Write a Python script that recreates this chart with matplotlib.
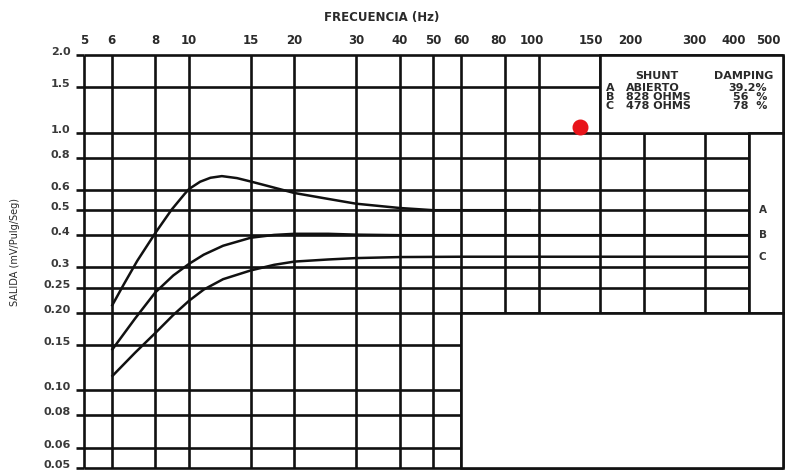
import matplotlib.pyplot as plt
from matplotlib.patches import Rectangle
from matplotlib.ticker import NullLocator
from matplotlib.transforms import ScaledTranslation

# ejes del papel (Hz / mV/Pulg/Seg)
freq_ticks = [5, 6, 8, 10, 15, 20, 30, 40, 50, 60, 80, 100, 150, 200, 300, 400, 500]
freq_labels = [str(f) for f in freq_ticks]
amp_ticks = [0.05, 0.06, 0.08, 0.10, 0.15, 0.20, 0.25, 0.3, 0.4, 0.5, 0.6, 0.8, 1.0, 1.5, 2.0]
amp_labels = ['0.05', '0.06', '0.08', '0.10', '0.15', '0.20', '0.25', '0.3', '0.4',
              '0.5', '0.6', '0.8', '1.0', '1.5', '2.0']

# curvas de respuesta
freq_a = [6, 6.5, 7.1, 8, 8.9, 9.7, 10, 10.75, 11.5, 12.4, 13.7, 15, 17, 20, 25, 30,
          40, 50, 60, 80, 95]
sal_a = [0.212, 0.258, 0.318, 0.408, 0.502, 0.578, 0.605, 0.645, 0.668, 0.678, 0.666,
         0.646, 0.618, 0.583, 0.553, 0.53, 0.51, 0.50, 0.50, 0.50, 0.50]
freq_b = [6, 7, 8, 9, 10, 11, 12.5, 15, 17.5, 20, 25, 30, 40, 60, 100, 200, 400]
sal_b = [0.143, 0.19, 0.24, 0.279, 0.31, 0.336, 0.364, 0.391, 0.401, 0.405, 0.405,
         0.402, 0.40, 0.40, 0.40, 0.40, 0.40]
freq_c = [6, 7, 8, 9, 10, 11, 12.5, 15, 17.5, 20, 25, 30, 40, 60, 100, 200, 400]
sal_c = [0.113, 0.14, 0.167, 0.196, 0.223, 0.246, 0.27, 0.292, 0.307, 0.316, 0.322,
         0.326, 0.329, 0.33, 0.33, 0.33, 0.33]

curve_names = ['A', 'B', 'C']
shunt = ['ABIERTO', '828 OHMS', '478 OHMS']
damping = ['39.2%', '56  %', '78  %']

dot_freq = 131
dot_sal = 1.05

W, H = 786, 476
fig = plt.figure(figsize=(W / 100, H / 100), dpi=100)
ax = fig.add_axes([84 / W, (H - 468) / H, 699 / W, 413 / H])
ax.set_xscale('log')
ax.set_yscale('log')
ax.set_xlim(freq_ticks[0], freq_ticks[-1])
ax.set_ylim(amp_ticks[0], amp_ticks[-1])
for s in ax.spines.values():
    s.set_visible(False)

lw = 1.9
ink = '#111111'
txt = '#2a2a2a'

# cuadricula completa, luego zonas en blanco encima
ax.vlines(freq_ticks, amp_ticks[0], amp_ticks[-1], color=ink, lw=lw, zorder=1, clip_on=False)
ax.hlines(amp_ticks, freq_ticks[0], freq_ticks[-1], color=ink, lw=lw, zorder=1, clip_on=False)

blank = [(150, 500, 1.0, 2.0),   # caja leyenda
         (400, 500, 0.2, 1.0),   # columna A B C
         (60, 500, 0.05, 0.2)]   # zona inferior
for x0, x1, y0, y1 in blank:
    ax.add_patch(Rectangle((x0, y0), x1 - x0, y1 - y0, facecolor='white', edgecolor=ink,
                           lw=lw, zorder=2, clip_on=False))

for f, v in [(freq_a, sal_a), (freq_b, sal_b), (freq_c, sal_c)]:
    ax.plot(f, v, color=ink, lw=1.8, zorder=3, solid_joinstyle='round', solid_capstyle='butt')

ax.plot([dot_freq], [dot_sal], 'o', color='#e8141a', ms=10.5, zorder=4, clip_on=False)

# eje x arriba
ax.xaxis.tick_top()
ax.set_xticks(freq_ticks)
ax.set_xticklabels(freq_labels)
ax.xaxis.set_minor_locator(NullLocator())
ax.tick_params(axis='x', which='both', length=0, pad=6, labelsize=8.5, labelcolor=txt)
shift_x = {80: -6, 100: -7, 150: -9, 200: -14, 300: -11, 400: -15, 500: -15}
for f, lab in zip(freq_ticks, ax.get_xticklabels()):
    lab.set_fontweight('bold')
    dx = shift_x.get(f, 0)
    if dx:
        lab.set_transform(lab.get_transform() + ScaledTranslation(dx / 100, 0, fig.dpi_scale_trans))

ax.set_yticks(amp_ticks)
ax.set_yticklabels(amp_labels)
ax.yaxis.set_minor_locator(NullLocator())
ax.tick_params(axis='y', which='both', direction='out', length=5.8, width=lw, color=ink,
               pad=4, labelsize=8, labelcolor='#3a3a3a')
for lab in ax.get_yticklabels():
    lab.set_fontweight('bold')
    lab.set_transform(lab.get_transform() + ScaledTranslation(0, 4 / 100, fig.dpi_scale_trans))

fig.text(382 / W, 1 - 17 / H, 'FRECUENCIA (Hz)', ha='center', va='center',
         fontsize=8.5, fontweight='bold', color=txt)
fig.text(15 / W, 1 - 252 / H, 'SALIDA (mV/Pulg/Seg)', rotation=90, ha='center', va='center',
         fontsize=7, color=txt, family=['Liberation Sans Narrow', 'DejaVu Sans'])

# leyenda dentro de la caja
def axfrac(px, py):
    return (px - 84) / 699, (468 - py) / 413

kw = dict(transform=ax.transAxes, fontsize=8, fontweight='bold', color=txt, va='center', zorder=5)
ax.text(*axfrac(657, 76), 'SHUNT', ha='center', **kw)
ax.text(*axfrac(744, 76), 'DAMPING', ha='center', **kw)
for i, (n, s, d) in enumerate(zip(curve_names, shunt, damping)):
    py = 88 + 9 * i
    ax.text(*axfrac(606, py), n, ha='left', **kw)
    ax.text(*axfrac(626, py), s, ha='left', **kw)
    ax.text(*axfrac(767, py), d, ha='right', **kw)

for n, v in zip(curve_names, [sal_a[-1], sal_b[-1], sal_c[-1]]):
    ax.text(437, v, n, ha='center', va='center', fontsize=7.5, fontweight='bold',
            color='#333333', zorder=5)

fig.savefig('out.png', dpi=100)
